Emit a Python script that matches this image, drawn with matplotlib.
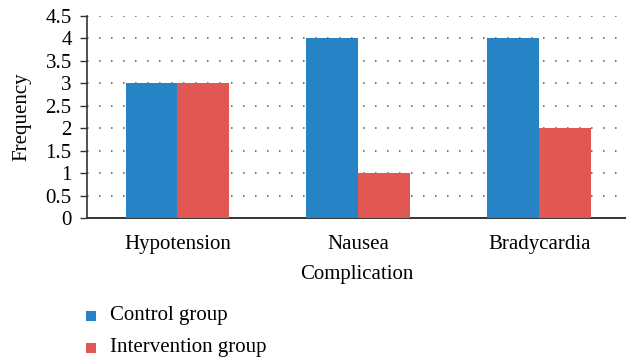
import matplotlib
matplotlib.use("Agg")
import matplotlib.pyplot as plt
import numpy as np
from matplotlib.patches import Rectangle

categories = ["Hypotension", "Nausea", "Bradycardia"]
series_names = ["Control group", "Intervention group"]
control = [3, 4, 4]
intervention = [3, 1, 2]
yticks = [0, 0.5, 1, 1.5, 2, 2.5, 3, 3.5, 4, 4.5]
ytick_labels = ["0", "0.5", "1", "1.5", "2", "2.5", "3", "3.5", "4", "4.5"]

plt.rcParams['font.family'] = ['Liberation Serif', 'DejaVu Serif']
plt.rcParams['lines.scale_dashes'] = False

blue = "#2683C6"
red = "#E15754"
colors = [blue, red]
fs = 15
W, H = 626, 360

fig = plt.figure(figsize=(6.26, 3.6), dpi=100)
ax = fig.add_axes([87/W, 1-218/H, (W-87)/W, (218-16)/H])

x = np.arange(len(categories))
w = 0.287
ax.bar(x - w/2, control, w, color=blue, zorder=3)
ax.bar(x + w/2, intervention, w, color=red, zorder=3)

ax.set_xlim(-0.5, 2.48)
ax.set_ylim(0, 4.5)
ax.set_yticks(yticks)
ax.set_yticklabels(ytick_labels)
ax.set_xticks(x)
ax.set_xticklabels(categories)
ax.tick_params(axis='y', length=5, width=1, direction='out', labelsize=fs, pad=6, color='#333333')
ax.tick_params(axis='x', length=0, labelsize=fs, pad=12)
for t in yticks[1:]:
    ax.axhline(t, color='#555555', linestyle=(0, (1.1, 7.54)), linewidth=1.1, zorder=1)

for s in ['top', 'right']:
    ax.spines[s].set_visible(False)
ax.spines['left'].set_color('#333333')
ax.spines['bottom'].set_color('#333333')
ax.spines['left'].set_linewidth(1.2)
ax.spines['bottom'].set_linewidth(1.4)

ax.set_ylabel("Frequency", fontsize=fs, labelpad=10)
ax.set_xlabel("Complication", fontsize=fs, labelpad=8)

# legend (manual placement)
rows_y = [315.5, 347.5]
for name, c, yc in zip(series_names, colors, rows_y):
    fig.patches.append(Rectangle((86/W, 1-(yc+5)/H), 10/W, 10/H, transform=fig.transFigure,
                                 facecolor=c, edgecolor='none'))
    fig.text(110/W, 1-yc/H, name, fontsize=fs, va='center', ha='left')

fig.savefig("out.png", dpi=100)
